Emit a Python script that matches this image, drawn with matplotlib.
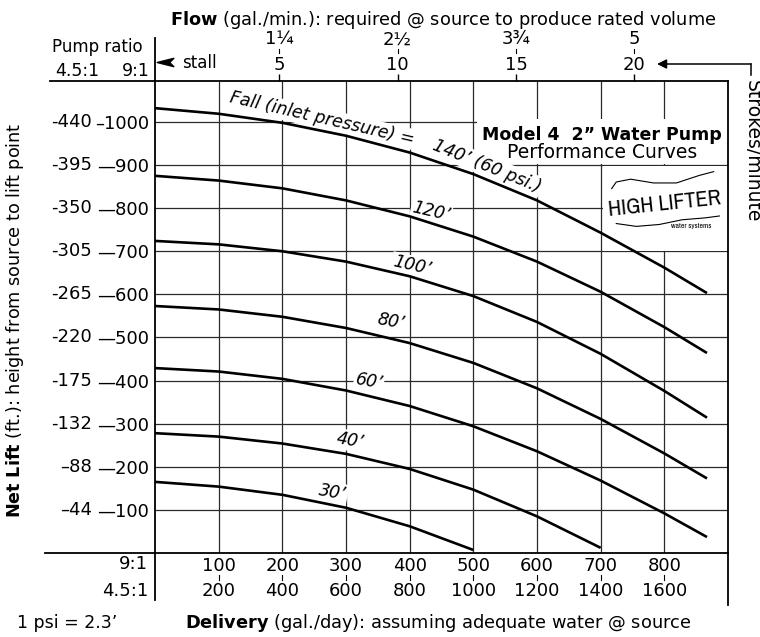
#!/usr/bin/env python3
"""
Model 4 2" Water Pump performance curves (High Lifter), redrawn.
Net lift vs. delivery for several fall (inlet pressure) values.
"""

import matplotlib
matplotlib.use('Agg')
import matplotlib.pyplot as plt
from matplotlib.lines import Line2D
from matplotlib.patches import Rectangle
from matplotlib.path import Path
from matplotlib import font_manager

plt.rcParams['font.family'] = ['DejaVu Sans']
plt.rcParams['mathtext.fontset'] = 'dejavusans'

# === Data (9:1 pump ratio units) ===
delivery = [0, 100, 200, 300, 400, 500, 600, 700, 800, 867]   # gal/day
fall_140 = [1032, 1019, 998, 968, 929, 879, 818, 743, 662, 603]
fall_120 = [875, 864, 846, 818, 781, 734, 676, 606, 524, 464]
fall_100 = [724, 716, 700, 676, 642, 596, 536, 462, 376, 314]
fall_80 = [573, 565, 548, 522, 487, 441, 382, 311, 231, 173]
fall_60 = [429, 421, 404, 377, 341, 294, 236, 168, 92, 37]
fall_40 = [278, 270, 254, 230, 195, 147, 85, 12]
fall_30 = [165, 154, 135, 105, 62, 7]

lift_9to1 = [100, 200, 300, 400, 500, 600, 700, 800, 900, 1000]
lift_45to1 = [44, 88, 132, 175, 220, 265, 305, 350, 395, 440]
deliv_9to1 = [100, 200, 300, 400, 500, 600, 700, 800]
deliv_45to1 = [200, 400, 600, 800, 1000, 1200, 1400, 1600]
strokes = [5, 10, 15, 20]
flow_gpm = ['1¼', '2½', '3¾', '5']


def strokes_to_delivery(s):
    return s * 37.2 + 9


def delivery_to_strokes(d):
    return (d - 9) / 37.2


FS = 12.5      # general text
FN = 13        # numbers
W, H = 760, 637

fig = plt.figure(figsize=(W / 100, H / 100), dpi=100)
ax = fig.add_axes([155 / W, (H - 553) / H, (728 - 155) / W, (553 - 81) / H])
inch = fig.dpi_scale_trans


def px(x, y):
    # figure pixel (from top-left) -> inches for dpi_scale_trans
    return x / 100, (H - y) / 100


# === Curves ===
curves = [fall_140, fall_120, fall_100, fall_80, fall_60, fall_40, fall_30]
for vals in curves:
    ax.plot(delivery[:len(vals)], vals, color='black', lw=1.9, zorder=4,
            solid_capstyle='butt', solid_joinstyle='round')

ax.set_xlim(0, 900)
ax.set_ylim(0, 1095)
ax.set_axisbelow(True)
ax.grid(True, color='#2a2a2a', lw=0.9)
for sp in ax.spines.values():
    sp.set_linewidth(1.3)

# bottom ticks (9:1 row)
ax.set_xticks(deliv_9to1)
ax.set_xticklabels([str(v) for v in deliv_9to1], fontsize=FN)
ax.tick_params(axis='x', length=0, pad=3)
# left ticks (9:1 column)
ax.set_yticks(lift_9to1)
ax.set_yticklabels([('–' if v >= 1000 else '—') + str(v) for v in lift_9to1],
                   fontsize=FN)
ax.tick_params(axis='y', length=0, pad=4)

blend_x = ax.get_xaxis_transform()
blend_y = ax.get_yaxis_transform()

# 4.5:1 column of lift values
for v, lab in zip(lift_9to1, lift_45to1):
    ax.text(-0.11, v, ('–' if lab < 100 else '-') + str(lab), transform=blend_y,
            ha='right', va='center', fontsize=FN)

# 4.5:1 row of delivery values + small separators
for v, lab in zip(deliv_9to1, deliv_45to1):
    ax.text(v, -0.081, str(lab), transform=blend_x, ha='center', va='center',
            fontsize=FN)
    ax.plot([v, v], [-0.046, -0.058], transform=blend_x, color='black',
            lw=0.8, clip_on=False)

# top axis: strokes/minute with gal/min above
sec = ax.secondary_xaxis('top', functions=(delivery_to_strokes, strokes_to_delivery))
sec.set_xticks(strokes)
sec.set_xticklabels([str(s) for s in strokes], fontsize=FN)
sec.tick_params(length=5, width=1.0, pad=0)
sec.spines['top'].set_visible(False)
for s, g in zip(strokes, flow_gpm):
    xd = strokes_to_delivery(s)
    ax.text(xd, 1.088, g, transform=blend_x, ha='center', va='center', fontsize=FN)
    ax.plot([xd, xd], [1.060, 1.068], transform=blend_x, color='black', lw=0.8,
            clip_on=False)

# frame extensions outside the plot
ext = dict(transform=ax.transAxes, color='black', lw=1.3, clip_on=False)
ax.plot([-0.183, 0], [1, 1], **ext)
ax.plot([-0.192, 0], [0, 0], **ext)
ax.plot([0, 0], [1, 1.092], **ext)
ax.plot([0, 0], [0, -0.10], **ext)
ax.plot([1, 1], [0, -0.11], **ext)

# white boxes for title and logo
ax.add_patch(Rectangle((505, 903), 395, 105, facecolor='white', edgecolor='none', zorder=1))
ax.add_patch(Rectangle((703, 700), 197, 197, facecolor='white', edgecolor='none', zorder=1))

# curve labels
lab_kw = dict(ha='center', va='center', rotation_mode='anchor', fontsize=FS,
              style='italic', zorder=2,
              bbox=dict(facecolor='white', edgecolor='none', pad=1.0))
ax.text(262, 1008, 'Fall (inlet pressure) =', rotation=-13, **lab_kw)
ax.text(521, 898, '140’ (60 psi.)', rotation=-22, **lab_kw)
ax.text(434, 793, '120’', rotation=-13, **lab_kw)
ax.text(403, 666, '100’', rotation=-13, **lab_kw)
ax.text(370, 537, '80’', rotation=-10, **lab_kw)
ax.text(336, 398, '60’', rotation=-10, **lab_kw)
ax.text(306, 261, '40’', rotation=-10, **lab_kw)
ax.text(279, 140, '30’', rotation=-10, **lab_kw)

# title block
ax.text(702, 970, 'Model 4  2” Water Pump', ha='center', va='center',
        fontsize=12.5, fontweight='bold', zorder=2)
ax.text(702, 930, 'Performance Curves', ha='center', va='center',
        fontsize=13.5, zorder=2)

# logo
logo_font = 'DejaVu Sans'
for f in font_manager.fontManager.ttflist:
    if 'Narrow' in f.name or 'Condensed' in f.name:
        logo_font = f.name
        break
ax.text(800, 810, 'HIGH LIFTER', ha='center', va='center', fontsize=16,
        family=logo_font, fontweight='bold', rotation=6, zorder=2)
ax.text(842, 758, 'water systems', ha='center', va='center', fontsize=5.5,
        family=logo_font, zorder=2)
wave_kw = dict(transform=ax.transAxes, color='black', lw=0.8, zorder=2)
ax.plot([0.797, 0.805, 0.83, 0.87, 0.91, 0.95, 0.975],
        [0.772, 0.786, 0.792, 0.784, 0.784, 0.800, 0.808], **wave_kw)
ax.plot([0.805, 0.84, 0.88, 0.92, 0.96, 0.985],
        [0.698, 0.692, 0.696, 0.706, 0.710, 0.714], **wave_kw)

# === Figure-level texts ===
fig.text(*px(170, 20), r'$\bf{Flow}$ (gal./min.): required @ source to produce rated volume',
         transform=inch, ha='left', va='center', fontsize=12.8)
fig.text(*px(52, 47), 'Pump ratio', transform=inch, ha='left', va='center', fontsize=12)
fig.text(*px(55, 71), '4.5:1', transform=inch, ha='left', va='center', fontsize=FS)
fig.text(*px(150, 71), '9:1', transform=inch, ha='right', va='center', fontsize=FS)
fig.text(*px(182, 63), 'stall', transform=inch, ha='left', va='center', fontsize=12)
stall_arrow = Path([(-1, 0), (1, 0.5), (0.5, 0), (1, -0.5), (-1, 0)],
                   [Path.MOVETO, Path.LINETO, Path.LINETO, Path.LINETO, Path.CLOSEPOLY])
ax.plot([0.0175], [1.040], transform=ax.transAxes, marker=stall_arrow,
        markersize=12, color='black', clip_on=False)

fig.text(*px(752, 80), 'Strokes/minute', transform=inch, rotation=-90,
         ha='center', va='top', fontsize=13.5)
ax.annotate('', xy=(657, H - 64), xytext=(751, H - 64), xycoords='figure pixels',
            textcoords='figure pixels',
            arrowprops=dict(arrowstyle='-|>', color='black', lw=1.1,
                            mutation_scale=14, shrinkA=0, shrinkB=0))
fig.add_artist(Line2D([7.51, 7.51], [(H - 64) / 100, (H - 75) / 100],
                      transform=inch, color='black', lw=1.1))

fig.text(*px(15, 320), r'$\bf{Net\ Lift}$ (ft.): height from source to lift point',
         transform=inch, rotation=90, ha='center', va='center', fontsize=12.7)
fig.text(*px(148, 564), '9:1', transform=inch, ha='right', va='center', fontsize=FN)
fig.text(*px(148, 591), '4.5:1', transform=inch, ha='right', va='center', fontsize=FN)
fig.text(*px(17, 623), '1 psi = 2.3’', transform=inch, ha='left', va='center', fontsize=FS)
fig.text(*px(185, 623), r'$\bf{Delivery}$ (gal./day): assuming adequate water @ source',
         transform=inch, ha='left', va='center', fontsize=12.8)

fig.savefig('out.png', dpi=100, facecolor='white')
